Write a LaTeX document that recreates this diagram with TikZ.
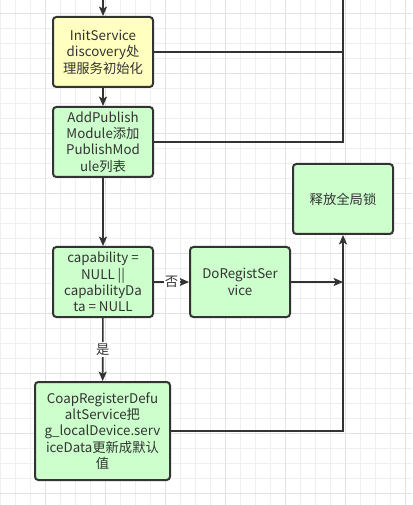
\documentclass[tikz,border=0pt]{standalone}
\usepackage{fontspec}
\setmainfont{Noto Sans CJK SC}
\usetikzlibrary{arrows.meta,positioning,calc}
\definecolor{ink}{HTML}{333333}
\definecolor{boxgreen}{HTML}{CCFFCC}
\definecolor{boxyellow}{HTML}{FFFFC0}
\definecolor{gridminor}{HTML}{EFEFEF}
\definecolor{gridmajor}{HTML}{E2E2E2}
\begin{document}
\begin{tikzpicture}[
      x=0.75pt, y=-0.75pt,
      font=\fontsize{10}{12.3}\selectfont,
      box/.style={draw=ink, line width=1.5pt, rounded corners=2.5pt, align=center, text=ink,
        minimum width=75pt, minimum height=52.5pt, inner sep=1pt},
      proc/.style={box, fill=boxgreen},
      init/.style={box, fill=boxyellow},
      line/.style={draw=ink, line width=1.2pt},
      arrow/.style={line, -{Stealth[length=7pt, width=6pt, inset=1.5pt]}},
      lbl/.style={fill=white, text=ink, inner sep=1pt}
    ]
    \useasboundingbox (0,0) rectangle (412,505);
    % grid
    \foreach \gx in {0,15,...,405} {
      \draw[gridminor, line width=0.6pt] (\gx,0) -- (\gx,505);
    }
    \foreach \gy in {13.3,28.3,...,505} {
      \draw[gridminor, line width=0.6pt] (0,\gy) -- (412,\gy);
    }
    \foreach \gx in {45,105,...,405} {
      \draw[gridmajor, line width=0.6pt] (\gx,0) -- (\gx,505);
    }
    \foreach \gy in {13.3,73.3,...,505} {
      \draw[gridmajor, line width=0.6pt] (0,\gy) -- (412,\gy);
    }

    % nodes
    \node[init] (initsvc) at (103,52)  {InitService\\discovery处\\理服务初始化};
    \node[proc] (addpub)  at (103,142) {AddPublish\\Module添加\\PublishMod\\ule列表};
    \node[proc] (capchk)  at (103,282) {capability =\\NULL ||\\capabilityDa\\ta = NULL};
    \node[proc] (doreg)   at (240,282) {DoRegistSer\\vice};
    \node[proc] (unlock)  at (343,199) {释放全局锁};
    \node[proc, minimum width=101.25pt, minimum height=73.5pt] (coapdef) at (102.5,431)
      {CoapRegisterDefu\\altService把\\g\_localDevice.serv\\iceData更新成默认\\值};

    \coordinate (topin)  at (103,0);
    \coordinate (topout) at (343,0);

    % connectors
    \draw[arrow] (topin) -- (initsvc.north);
    \draw[arrow] (initsvc) -- (addpub);
    \draw[arrow] (addpub) -- (capchk);
    \draw[line] (initsvc.east) -| (topout);
    \draw[line] (addpub.east) -| (topout);
    \draw[arrow] (capchk) -- node[lbl] {否} (doreg);
    \draw[arrow] (capchk) -- node[lbl] {是} (coapdef);
    \draw[arrow] (doreg.east) -- (doreg.east -| unlock.south);
    \draw[arrow] (coapdef.east) -| (unlock.south);
  \end{tikzpicture}
\end{document}
